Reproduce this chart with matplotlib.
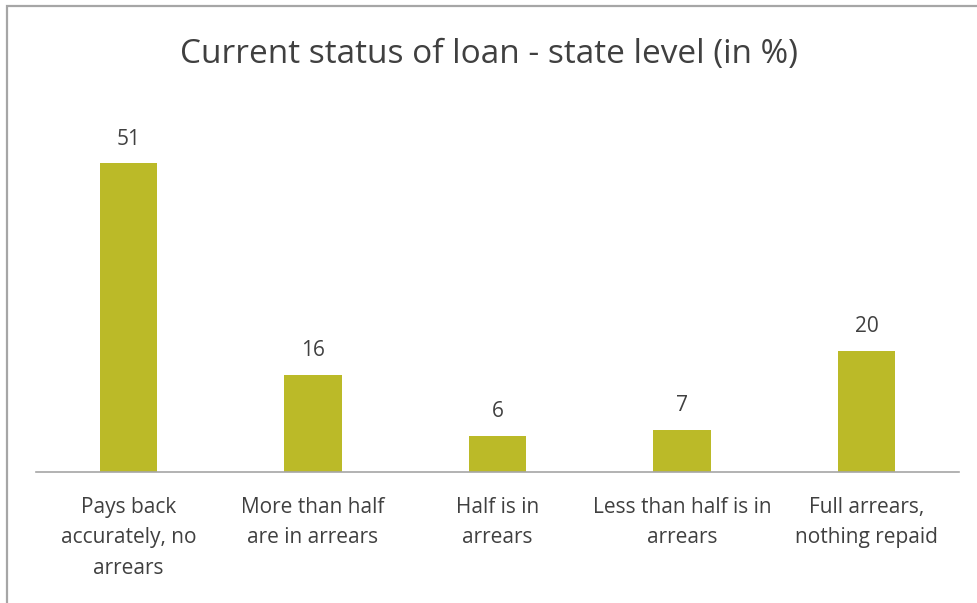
import matplotlib
matplotlib.use("Agg")
import matplotlib.pyplot as plt
from matplotlib.patches import Rectangle

categories = [
    "Pays back\naccurately, no\narrears",
    "More than half\nare in arrears",
    "Half is in\narrears",
    "Less than half is in\narrears",
    "Full arrears,\nnothing repaid",
]
values = [51, 16, 6, 7, 20]

plt.rcParams["font.family"] = ["Open Sans", "DejaVu Sans"]
TEXT = "#404040"
BAR = "#BBBA28"

W, H = 977, 603
fig = plt.figure(figsize=(W / 100, H / 100), dpi=100)
fig.patch.set_facecolor("white")

# chart area border (only top and left edges visible in the frame)
fig.add_artist(Rectangle((6.5 / W, -0.1), 1.2, 1.1 - 6.5 / H, transform=fig.transFigure,
                         fill=False, edgecolor="#A6A6A6", linewidth=1.6))

left, right = 36 / W, 959 / W
bottom = (H - 472) / H
top_px = 472 - 60 * 6.05
ax = fig.add_axes([left, bottom, right - left, (472 - top_px) / H])

x = range(len(values))
bars = ax.bar(x, values, width=0.31, color=BAR, zorder=2)
ax.set_xlim(-0.5, len(values) - 0.5)
ax.set_ylim(0, 60)

for rect, v in zip(bars, values):
    ax.annotate(f"{v}", (rect.get_x() + rect.get_width() / 2, v),
                xytext=(0, 10), textcoords="offset points",
                ha="center", va="bottom", fontsize=15, color=TEXT)

for s in ["top", "right", "left"]:
    ax.spines[s].set_visible(False)
ax.spines["bottom"].set_color("#A6A6A6")
ax.spines["bottom"].set_linewidth(1.2)
ax.set_yticks([])
ax.set_xticks(list(x))
ax.set_xticklabels(categories, fontsize=15, color=TEXT, linespacing=1.58)
ax.tick_params(axis="x", length=0, pad=18)

fig.text(0.5, (H - 54) / H, "Current status of loan - state level (in %)",
         ha="center", va="center", fontsize=24, color=TEXT)

fig.savefig("out.png", dpi=100, facecolor="white")
